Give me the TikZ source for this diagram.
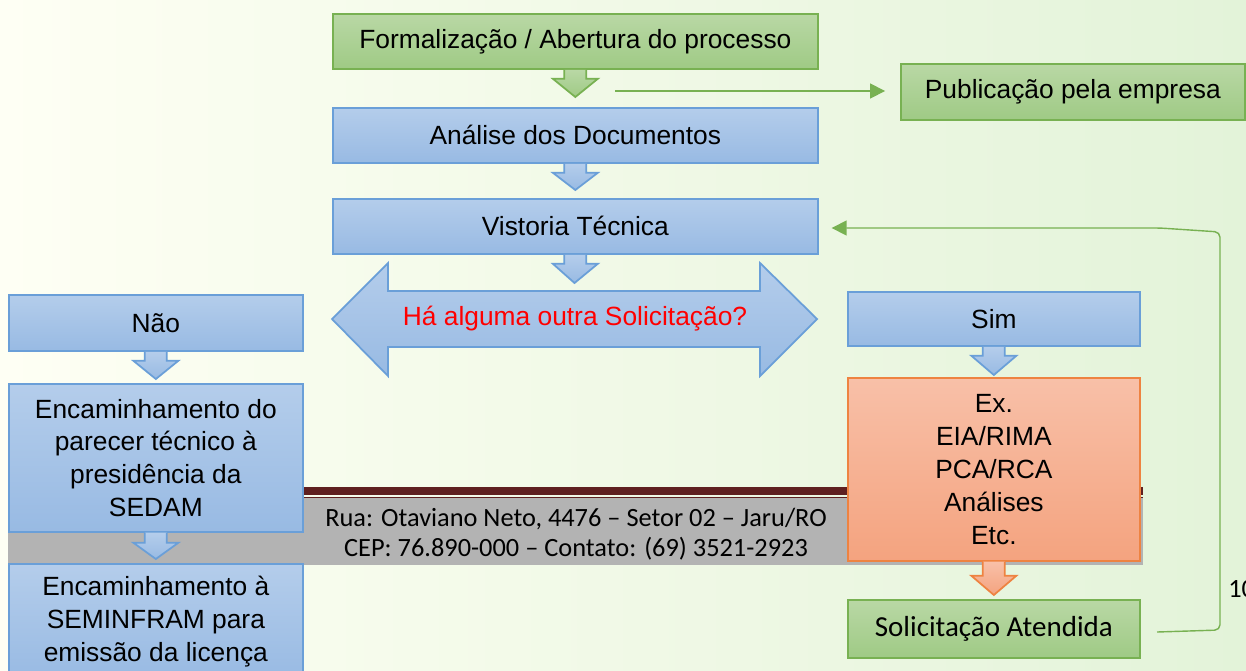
\documentclass[tikz,border=0pt]{standalone}
\usepackage{fontspec}
\setmainfont{Liberation Sans}
\newfontfamily\calfont{Carlito}
\usetikzlibrary{calc,arrows.meta}
\definecolor{gfillA}{HTML}{B9D8A5}
\definecolor{gfillB}{HTML}{9FCA85}
\definecolor{gline}{HTML}{78B152}
\definecolor{bfillA}{HTML}{B4CDEB}
\definecolor{bfillB}{HTML}{98BAE3}
\definecolor{bline}{HTML}{6A9FD8}
\definecolor{ofillA}{HTML}{F8C0A8}
\definecolor{ofillB}{HTML}{F4A37F}
\definecolor{oline}{HTML}{EE8341}
\definecolor{maroonbar}{HTML}{5F2020}
\definecolor{bandgray}{HTML}{B3B3B3}
\definecolor{bgA}{HTML}{FEFFF4}
\definecolor{bgB}{HTML}{E3F3D9}
\definecolor{qred}{HTML}{FF0000}
\tikzset{
  box/.style={rectangle, anchor=north west, inner sep=0pt, line width=1pt, align=center,
    font=\fontsize{15}{18.7}\selectfont},
  gbox/.style={box, draw=gline, top color=gfillA, bottom color=gfillB},
  bbox/.style={box, draw=bline, top color=bfillA, bottom color=bfillB},
  obox/.style={box, draw=oline, top color=ofillA, bottom color=ofillB},
  garrow/.style={draw=gline, line width=1pt, top color=gfillA, bottom color=gfillB},
  barrow/.style={draw=bline, line width=1pt, top color=bfillA, bottom color=bfillB},
  oarrow/.style={draw=oline, line width=1pt, top color=ofillA, bottom color=ofillB},
  conn/.style={draw=gline, line width=0.8pt, -{Triangle[length=8.5pt,width=8.5pt]}},
  foot/.style={font=\calfont\fontsize{15}{17}\selectfont, inner sep=0pt},
}
% block arrow: #1 source node, #2 tip coordinate, #3 style, #4 shaft length (px)
\newcommand\blockdown[4]{%
  \path[#3] ($(#1.south)+(-11,0)$) -- ($(#1.south)+(-11,#4)$) -- ($(#1.south)+(-22.5,#4)$)
    -- (#2) -- ($(#1.south)+(22.5,#4)$) -- ($(#1.south)+(11,#4)$) -- ($(#1.south)+(11,0)$);}
\begin{document}
\begin{tikzpicture}[x=0.02cm,y=-0.02cm]
\useasboundingbox (0,0) rectangle (1246,670);
\clip (0,0) rectangle (1246,670);
\shade[left color=bgA, right color=bgB] (0,0) rectangle (1246,670);

% footer band
\fill[bandgray] (8,498) rectangle (1143,565);
\fill[maroonbar] (300,487) rectangle (1143,495);
\fill[maroonbar] (300,496.5) rectangle (1143,498);
\node[foot] (addr1) at (576,519) {Rua: Otaviano Neto, 4476 – Setor 02 – Jaru/RO};
\node[foot] (addr2) at (576,549) {CEP: 76.890-000 – Contato: (69) 3521-2923};

% main column
\node[gbox, minimum width=9.70cm, minimum height=1.10cm] (form) at (332,13) {Formalização / Abertura do processo};
\node[bbox, minimum width=9.70cm, minimum height=1.10cm] (ana) at (332,107) {Análise dos Documentos};
\node[bbox, minimum width=9.70cm, minimum height=1.10cm] (vis) at (332,198) {Vistoria Técnica};
\node[gbox, minimum width=6.88cm, minimum height=1.12cm] (pub) at (900,63) {Publicação pela empresa};

% question double arrow
\path[barrow] (332,319) -- (388,263) -- (388,291) -- (760,291) -- (760,263) -- (817,319)
  -- (760,376) -- (760,347) -- (388,347) -- (388,376) -- cycle;
\node[font=\fontsize{15}{18}\selectfont, text=qred, inner sep=0pt] (q) at (575,319) {Há alguma outra Solicitação?};
\coordinate (qtip) at (574.5,283);

% left column
\node[bbox, minimum width=5.88cm, minimum height=1.12cm] (nao) at (8,294) {Não};
\node[bbox, minimum width=5.88cm, minimum height=2.96cm] (enc1) at (8,383) {Encaminhamento do\\parecer técnico à\\presidência da\\SEDAM};
\node[bbox, minimum width=5.88cm, minimum height=2.32cm] (enc2) at (8,563) {Encaminhamento à\\SEMINFRAM para\\emissão da licença};

% right column
\node[bbox, minimum width=5.84cm, minimum height=1.08cm] (sim) at (847,291) {Sim};
\node[obox, minimum width=5.84cm, minimum height=3.66cm] (ex) at (847,377) {Ex.\\EIA/RIMA\\PCA/RCA\\Análises\\Etc.};
\node[gbox, minimum width=5.84cm, minimum height=1.16cm, font=\calfont\fontsize{16.5}{20}\selectfont] (sa) at (847,599) {Solicitação Atendida};

% block arrows
\blockdown{form}{$(ana.north)+(0,-10)$}{garrow}{9}
\blockdown{ana}{$(vis.north)+(0,-8)$}{barrow}{9}
\blockdown{vis}{qtip}{barrow}{9}
\blockdown{nao}{$(enc1.north)+(0,-4)$}{barrow}{9}
\blockdown{enc1}{$(enc2.north)+(0,-4)$}{barrow}{10}
\blockdown{sim}{$(ex.north)+(0,-2)$}{barrow}{9}
\blockdown{ex}{$(sa.north)+(0,-4)$}{oarrow}{14}

% connectors
\coordinate (pstart) at (615,91);
\draw[conn, shorten >=8.5pt] (pstart) -- (pstart -| pub.west);
\coordinate (fb1) at (1157,632);
\coordinate (fb2) at (1220,630);
\coordinate (fb3) at (1220,232);
\coordinate (fb4) at (1160,228);
\draw[conn, rounded corners=3pt, shorten >=7.4pt] (fb1) -- (fb2) -- (fb3) -- (fb4) -- (fb4 -| vis.east);

% page number (cut at the edge)
\node[anchor=west, font=\calfont\fontsize{15}{18}\selectfont, inner sep=0pt] (pg) at (1228,589) {10};
\end{tikzpicture}
\end{document}
